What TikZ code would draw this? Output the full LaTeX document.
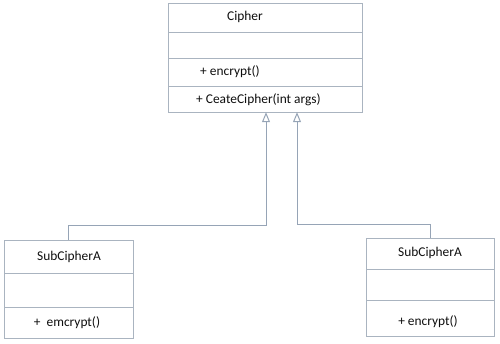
\documentclass[tikz,border=0pt]{standalone}
\usepackage{fontspec}
\setmainfont{Carlito}
\usepackage{tikz}
\usetikzlibrary{arrows.meta,positioning,calc,shadows}
\definecolor{boxline}{RGB}{170,180,192}
\definecolor{linkline}{RGB}{150,164,182}
\definecolor{txt}{RGB}{15,15,15}

\begin{document}
\begin{tikzpicture}[
  x=1pt, y=-1pt,
  classbox/.style={draw=boxline, fill=white, inner sep=0pt,
    drop shadow={shadow xshift=1.2pt, shadow yshift=-1.2pt, opacity=0.25}},
  member/.style={font=\fontsize{13.4}{15}\selectfont, text=txt, inner sep=0pt},
  divider/.style={draw=boxline},
  inherit/.style={draw=linkline, line width=1pt,
    -{Triangle[open, length=10pt, width=8pt, fill=white]}}
]
\useasboundingbox (0,0) rectangle (500,344);

% base class
\node[classbox, minimum width=194pt, minimum height=109pt] (cipher) at (265,57.5) {};
\draw[divider] (168,32) -- (362,32);
\draw[divider] (168,58) -- (362,58);
\draw[divider] (168,86) -- (362,86);
\node[member] (cname) at (245,17) {Cipher};
\node[member, anchor=west] (cenc) at (200,72) {+ encrypt()};
\node[member, anchor=west] (ccreate) at (196,100) {+ CeateCipher(int args)};

% sub classes
\node[classbox, minimum width=129pt, minimum height=98pt] (subA) at (68.5,289) {};
\draw[divider] (4,273) -- (133,273);
\draw[divider] (4,307) -- (133,307);
\node[member] (aname) at (69,257) {SubCipherA};
\node[member] (aenc) at (67,323) {+\ \ emcrypt()};

\node[classbox, minimum width=128pt, minimum height=98pt] (subB) at (430,287) {};
\draw[divider] (366,269) -- (494,269);
\draw[divider] (366,300) -- (494,300);
\node[member] (bname) at (430,253) {SubCipherA};
\node[member] (benc) at (428,322) {+ encrypt()};

% generalisation
\coordinate (jA) at (266,226);
\coordinate (jB) at (297,225);
\draw[inherit] (subA.north) |- (jA) -- (jA |- cipher.south);
\draw[inherit] (subB.north) |- (jB) -- (jB |- cipher.south);
\end{tikzpicture}
\end{document}
